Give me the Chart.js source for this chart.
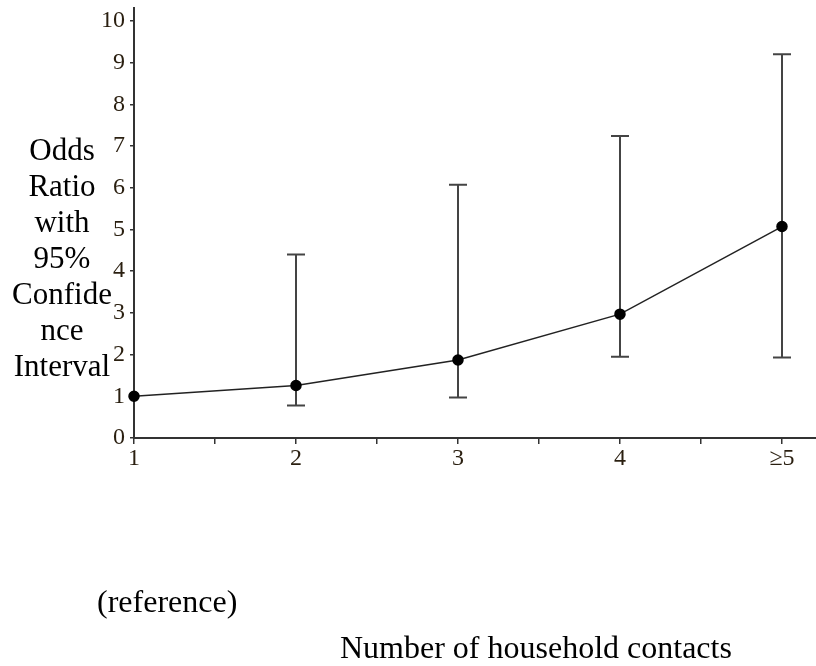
<!DOCTYPE html>
<html>
<head>
<meta charset="utf-8">
<script src="https://cdn.jsdelivr.net/npm/chart.js@4.4.1/dist/chart.umd.min.js"></script>
<style>
  html, body { margin: 0; padding: 0; background: #fff; }
  #wrap { position: relative; width: 816px; height: 666px; font-family: "Liberation Serif", "Times New Roman", serif; color: #000; }
  #grafico { position: absolute; left: 0; top: 0; }
  .txt { position: absolute; white-space: nowrap; }
  #titulo-y { left: 0; top: 132px; width: 124px; text-align: center; font-size: 31px; line-height: 36px; }
  #ref { left: 97px; top: 585px; font-size: 32px; line-height: 32px; }
  #titulo-x { left: 340px; top: 631px; font-size: 32px; line-height: 32px; }
</style>
</head>
<body>
<div id="wrap">
  <canvas id="grafico" width="816" height="666"></canvas>
  <div class="txt" id="titulo-y">Odds<br>Ratio<br>with<br>95%<br>Confide<br>nce<br>Interval</div>
  <div class="txt" id="ref">(reference)</div>
  <div class="txt" id="titulo-x">Number of household contacts</div>
</div>
<script>
// Dados
let contatos = [1, 2, 3, 4, 5];
let labelsContatos = ["1", "2", "3", "4", "≥5"];
let oddsRatio = [1.0, 1.26, 1.87, 2.97, 5.07];
let icInferior = [null, 0.78, 0.97, 1.95, 1.93];
let icSuperior = [null, 4.4, 6.07, 7.24, 9.2];

// Ticks dos eixos
let ticksY = [0, 1, 2, 3, 4, 5, 6, 7, 8, 9, 10];
let ticksX = [1, 1.5, 2, 2.5, 3, 3.5, 4, 4.5, 5];

// Plugin para desenhar as barras de erro (IC 95%)
const barrasErro = {
    id: "barrasErro",
    beforeDatasetsDraw(chart) {
        const ctx = chart.ctx;
        const x = chart.scales.x;
        const y = chart.scales.y;
        ctx.save();
        ctx.strokeStyle = "#444";
        ctx.lineWidth = 2;
        contatos.forEach((c, i) => {
            if (icInferior[i] == null) return;
            const px = Math.round(x.getPixelForValue(c));
            const yLo = y.getPixelForValue(icInferior[i]);
            const yHi = y.getPixelForValue(icSuperior[i]);
            ctx.beginPath();
            ctx.moveTo(px, yLo);
            ctx.lineTo(px, yHi);
            ctx.moveTo(px - 9, yLo);
            ctx.lineTo(px + 9, yLo);
            ctx.moveTo(px - 9, yHi);
            ctx.lineTo(px + 9, yHi);
            ctx.stroke();
        });
        ctx.restore();
    }
};

const fonteTicks = { family: "'Liberation Serif', 'Times New Roman', serif", size: 24, lineHeight: 1.2 };

const configOdds = {
    type: "line",
    data: {
        datasets: [{
            label: "",
            data: contatos.map((c, i) => ({ x: c, y: oddsRatio[i] })),
            borderColor: "#222",
            borderWidth: 1.5,
            pointRadius: 5,
            pointBackgroundColor: "#000",
            pointBorderColor: "#000",
            fill: false,
            tension: 0,
            clip: false
        }]
    },
    options: {
        responsive: false,
        animation: false,
        devicePixelRatio: 1,
        layout: { autoPadding: false, padding: { left: 0, top: 8, right: 0, bottom: 188 } },
        plugins: {
            legend: { display: false },
            tooltip: { enabled: false }
        },
        scales: {
            x: {
                type: "linear",
                min: 1,
                max: 5.21,
                afterBuildTicks: (s) => { s.ticks = ticksX.map(v => ({ value: v })); },
                afterFit: (s) => { s.height = 40; s.paddingLeft = 0; s.paddingRight = 0; },
                ticks: {
                    autoSkip: false,
                    maxRotation: 0,
                    padding: 0,
                    color: "#2a1f10",
                    font: fonteTicks,
                    callback: (v) => Number.isInteger(v) ? labelsContatos[v - 1] : ""
                },
                grid: { drawOnChartArea: false, drawTicks: true, tickLength: 6, color: "#333", lineWidth: 1.5 },
                border: { display: true, color: "#333", width: 2 }
            },
            y: {
                type: "linear",
                min: 0,
                max: 10.31,
                afterBuildTicks: (s) => { s.ticks = ticksY.map(v => ({ value: v })); },
                afterFit: (s) => { s.width = 134; s.paddingTop = 0; s.paddingBottom = 0; },
                ticks: {
                    padding: 5,
                    color: "#2a1f10",
                    font: fonteTicks
                },
                grid: { drawOnChartArea: false, drawTicks: true, tickLength: 4, color: "#333", lineWidth: 1.5 },
                border: { display: true, color: "#333", width: 2 }
            }
        }
    },
    plugins: [barrasErro]
};

let myChartOdds = new Chart(document.getElementById("grafico"), configOdds);
</script>
</body>
</html>
